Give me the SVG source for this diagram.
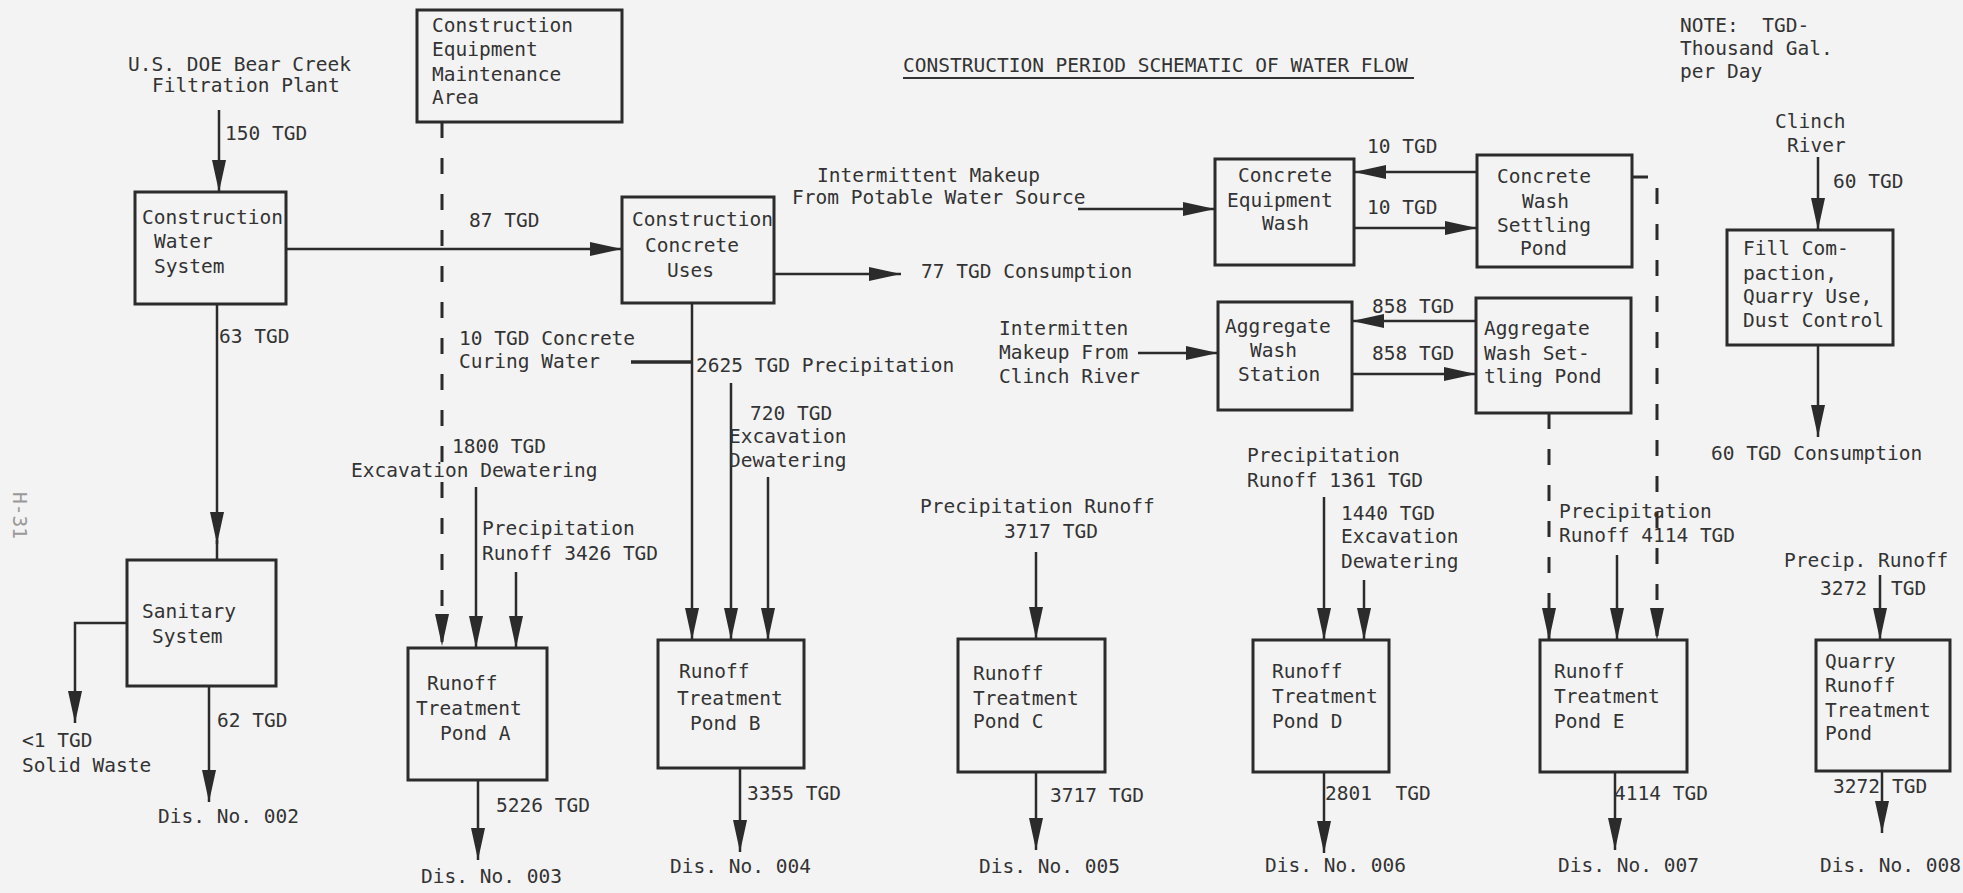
<svg xmlns="http://www.w3.org/2000/svg" width="1963" height="893" viewBox="0 0 1963 893">
<style>
text{font-family:"DejaVu Sans Mono","Liberation Mono",monospace;font-size:19.5px;fill:#333;white-space:pre}
.box{fill:none;stroke:#2b2b2b;stroke-width:3}
.c{fill:none;stroke:#2b2b2b;stroke-width:2.5}
.ca{fill:none;stroke:#2b2b2b;stroke-width:2.5;marker-end:url(#ah)}
.d{fill:none;stroke:#2b2b2b;stroke-width:3;stroke-dasharray:16 20}
.da{fill:none;stroke:#2b2b2b;stroke-width:3;stroke-dasharray:16 20;marker-end:url(#ah)}
.pg{fill:#999}
</style>
<defs>
<marker id="ah" markerUnits="userSpaceOnUse" markerWidth="32" markerHeight="14" refX="32" refY="7" orient="auto" viewBox="0 0 32 14">
<path d="M0,0 L32,7 L0,14 z" fill="#2b2b2b"/>
</marker>
</defs>
<rect x="0" y="0" width="1963" height="893" fill="#f3f3f3"/>

<g id="title">
<text x="903" y="72">CONSTRUCTION PERIOD SCHEMATIC OF WATER FLOW</text>
<line x1="903" y1="78" x2="1414" y2="78" stroke="#333" stroke-width="2"/>
</g>
<g id="note">
<text x="1680" y="32" xml:space="preserve">NOTE:  TGD-</text>
<text x="1680" y="55">Thousand Gal.</text>
<text x="1680" y="78">per Day</text>
</g>
<g id="page">
<text class="pg" transform="translate(13,492) rotate(90)">H-31</text>
</g>

<g id="connectors">
<path class="ca" d="M219,110 V192"/>
<path class="ca" d="M286,249 H622"/>
<path class="ca" d="M217,304 V544"/>
<path class="c" d="M217,540 V560"/>
<path class="ca" d="M774,274 H901"/>
<path class="da" d="M442,122 V646"/>
<path class="ca" d="M692,303 V640"/>
<path class="c" d="M631,362 H692" style="stroke-width:3.5"/>
<path class="ca" d="M731,383 V640"/>
<path class="ca" d="M768,477 V640"/>
<path class="ca" d="M476,487 V648"/>
<path class="ca" d="M516,572 V648"/>
<path class="ca" d="M128,623 H75 V723"/>
<path class="ca" d="M209,686 V802"/>
<path class="ca" d="M478,780 V860"/>
<path class="ca" d="M740,768 V852"/>
<path class="ca" d="M1036,552 V639"/>
<path class="ca" d="M1036,772 V850"/>
<path class="ca" d="M1078,209 H1215"/>
<path class="ca" d="M1477,172 H1354"/>
<path class="ca" d="M1354,228 H1477"/>
<path class="ca" d="M1138,353 H1218"/>
<path class="ca" d="M1476,321 H1352"/>
<path class="ca" d="M1352,374 H1476"/>
<path class="da" d="M1632,177 H1657 V640"/>
<path class="da" d="M1549,413 V640"/>
<path class="ca" d="M1324,497 V640"/>
<path class="ca" d="M1364,580 V640"/>
<path class="ca" d="M1324,772 V853"/>
<path class="ca" d="M1617,555 V640"/>
<path class="ca" d="M1615,772 V850"/>
<path class="ca" d="M1818,157 V230"/>
<path class="ca" d="M1818,345 V437"/>
<path class="ca" d="M1880,575 V640"/>
<path class="ca" d="M1882,771 V833"/>
</g>

<g id="n-cws">
<rect class="box" x="135" y="192" width="151" height="112"/>
<text x="142" y="224">Construction</text>
<text x="154" y="248">Water</text>
<text x="154" y="273">System</text>
</g>
<g id="n-cema">
<rect class="box" x="417" y="10" width="205" height="112"/>
<text x="432" y="32">Construction</text>
<text x="432" y="56">Equipment</text>
<text x="432" y="81">Maintenance</text>
<text x="432" y="104">Area</text>
</g>
<g id="n-ccu">
<rect class="box" x="622" y="197" width="152" height="106"/>
<text x="632" y="226">Construction</text>
<text x="645" y="252">Concrete</text>
<text x="667" y="277">Uses</text>
</g>
<g id="n-cew">
<rect class="box" x="1215" y="159" width="139" height="106"/>
<text x="1238" y="182">Concrete</text>
<text x="1227" y="207">Equipment</text>
<text x="1262" y="230">Wash</text>
</g>
<g id="n-cwsp">
<rect class="box" x="1477" y="155" width="155" height="112"/>
<text x="1497" y="183">Concrete</text>
<text x="1522" y="208">Wash</text>
<text x="1497" y="232">Settling</text>
<text x="1520" y="255">Pond</text>
</g>
<g id="n-aws">
<rect class="box" x="1218" y="302" width="134" height="108"/>
<text x="1225" y="333">Aggregate</text>
<text x="1250" y="357">Wash</text>
<text x="1238" y="381">Station</text>
</g>
<g id="n-awsp">
<rect class="box" x="1476" y="298" width="155" height="115"/>
<text x="1484" y="335">Aggregate</text>
<text x="1484" y="360">Wash Set-</text>
<text x="1484" y="383">tling Pond</text>
</g>
<g id="n-fill">
<rect class="box" x="1727" y="230" width="166" height="115"/>
<text x="1743" y="255">Fill Com-</text>
<text x="1743" y="280">paction,</text>
<text x="1743" y="303">Quarry Use,</text>
<text x="1743" y="327">Dust Control</text>
</g>
<g id="n-san">
<rect class="box" x="127" y="560" width="149" height="126"/>
<text x="142" y="618">Sanitary</text>
<text x="152" y="643">System</text>
</g>
<g id="n-pondA">
<rect class="box" x="408" y="648" width="139" height="132"/>
<text x="427" y="690">Runoff</text>
<text x="416" y="715">Treatment</text>
<text x="440" y="740">Pond A</text>
</g>
<g id="n-pondB">
<rect class="box" x="658" y="640" width="146" height="128"/>
<text x="679" y="678">Runoff</text>
<text x="677" y="705">Treatment</text>
<text x="690" y="730">Pond B</text>
</g>
<g id="n-pondC">
<rect class="box" x="958" y="639" width="147" height="133"/>
<text x="973" y="680">Runoff</text>
<text x="973" y="705">Treatment</text>
<text x="973" y="728">Pond C</text>
</g>
<g id="n-pondD">
<rect class="box" x="1253" y="640" width="136" height="132"/>
<text x="1272" y="678">Runoff</text>
<text x="1272" y="703">Treatment</text>
<text x="1272" y="728">Pond D</text>
</g>
<g id="n-pondE">
<rect class="box" x="1540" y="640" width="147" height="132"/>
<text x="1554" y="678">Runoff</text>
<text x="1554" y="703">Treatment</text>
<text x="1554" y="728">Pond E</text>
</g>
<g id="n-quarry">
<rect class="box" x="1816" y="640" width="134" height="131"/>
<text x="1825" y="668">Quarry</text>
<text x="1825" y="692">Runoff</text>
<text x="1825" y="717">Treatment</text>
<text x="1825" y="740">Pond</text>
</g>

<g id="labels">
<text x="128" y="71">U.S. DOE Bear Creek</text>
<text x="152" y="92">Filtration Plant</text>
<text x="225" y="140">150 TGD</text>
<text x="469" y="227">87 TGD</text>
<text x="219" y="343">63 TGD</text>
<text x="921" y="278">77 TGD Consumption</text>
<text x="459" y="345">10 TGD Concrete</text>
<text x="459" y="368">Curing Water</text>
<text x="696" y="372">2625 TGD Precipitation</text>
<text x="750" y="420">720 TGD</text>
<text x="729" y="443">Excavation</text>
<text x="729" y="467">Dewatering</text>
<text x="452" y="453">1800 TGD</text>
<text x="351" y="477">Excavation Dewatering</text>
<text x="482" y="535">Precipitation</text>
<text x="482" y="560">Runoff 3426 TGD</text>
<text x="22" y="747">&lt;1 TGD</text>
<text x="22" y="772">Solid Waste</text>
<text x="217" y="727">62 TGD</text>
<text x="158" y="823">Dis. No. 002</text>
<text x="496" y="812">5226 TGD</text>
<text x="421" y="883">Dis. No. 003</text>
<text x="747" y="800">3355 TGD</text>
<text x="670" y="873">Dis. No. 004</text>
<text x="920" y="513">Precipitation Runoff</text>
<text x="1004" y="538">3717 TGD</text>
<text x="1050" y="802">3717 TGD</text>
<text x="979" y="873">Dis. No. 005</text>
<text x="817" y="182">Intermittent Makeup</text>
<text x="792" y="204">From Potable Water Source</text>
<text x="1367" y="153">10 TGD</text>
<text x="1367" y="214">10 TGD</text>
<text x="999" y="335">Intermitten</text>
<text x="999" y="359">Makeup From</text>
<text x="999" y="383">Clinch River</text>
<text x="1372" y="313">858 TGD</text>
<text x="1372" y="360">858 TGD</text>
<text x="1247" y="462">Precipitation</text>
<text x="1247" y="487">Runoff 1361 TGD</text>
<text x="1341" y="520">1440 TGD</text>
<text x="1341" y="543">Excavation</text>
<text x="1341" y="568">Dewatering</text>
<text x="1325" y="800" xml:space="preserve">2801  TGD</text>
<text x="1265" y="872">Dis. No. 006</text>
<text x="1559" y="518">Precipitation</text>
<text x="1559" y="542">Runoff 4114 TGD</text>
<text x="1614" y="800">4114 TGD</text>
<text x="1558" y="872">Dis. No. 007</text>
<text x="1775" y="128">Clinch</text>
<text x="1787" y="152">River</text>
<text x="1833" y="188">60 TGD</text>
<text x="1711" y="460">60 TGD Consumption</text>
<text x="1784" y="567">Precip. Runoff</text>
<text x="1820" y="595">3272</text>
<text x="1891" y="595">TGD</text>
<text x="1833" y="793">3272</text>
<text x="1892" y="793">TGD</text>
<text x="1820" y="872">Dis. No. 008</text>
</g>
</svg>
